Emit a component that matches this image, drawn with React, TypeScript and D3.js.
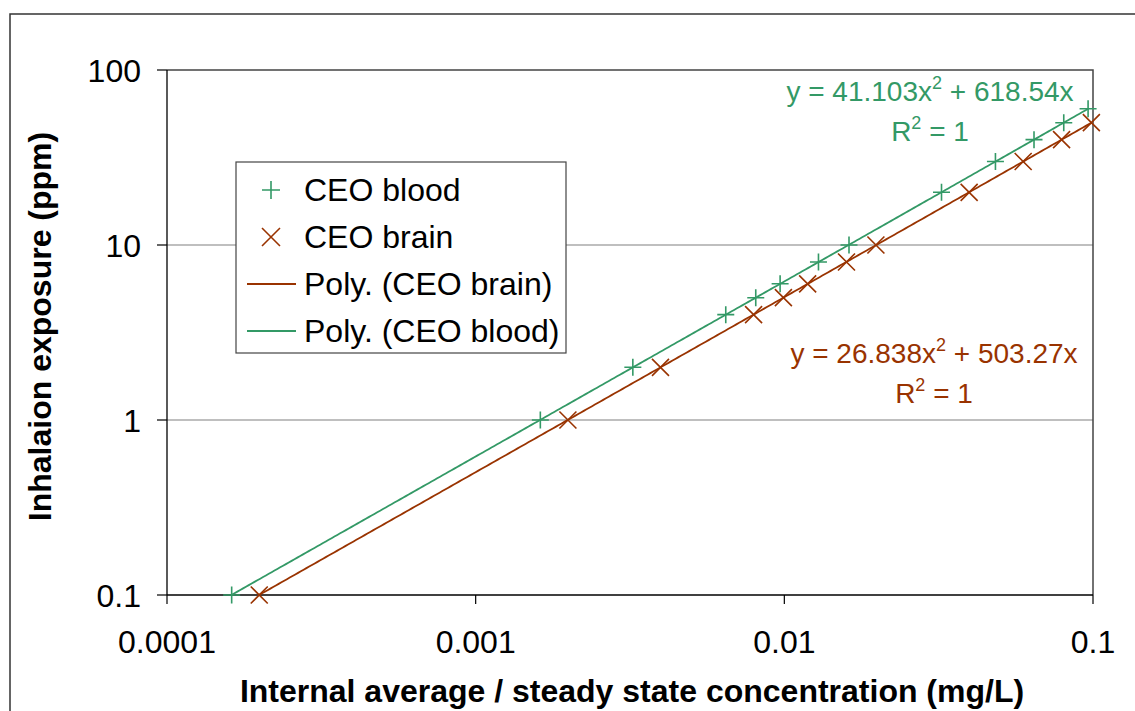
import React from "react";
import * as d3 from "d3";

// Measured steady-state concentrations (mg/L) and the inhalation exposures (ppm)
const bloodConc = [0.000162, 0.00162, 0.00323, 0.00646, 0.00808, 0.00969, 0.0129, 0.0162, 0.0323, 0.0483, 0.0644, 0.0804, 0.0964];
const bloodPpm = [0.1, 1, 2, 4, 5, 6, 8, 10, 20, 30, 40, 50, 60];
const brainConc = [0.000199, 0.00199, 0.00397, 0.00795, 0.00993, 0.0119, 0.0159, 0.0198, 0.0397, 0.0594, 0.0791, 0.0988];
const brainPpm = [0.1, 1, 2, 4, 5, 6, 8, 10, 20, 30, 40, 50];

// Second-order polynomial trendlines through the origin: y = a·x² + b·x
const bloodFit = [41.103, 618.54];
const brainFit = [26.838, 503.27];

const xTicks = [0.0001, 0.001, 0.01, 0.1];
const xTickLabels = ["0.0001", "0.001", "0.01", "0.1"];
const yTicks = [0.1, 1, 10, 100];
const yTickLabels = ["0.1", "1", "10", "100"];

const GREEN = "#339966";
const BROWN = "#993300";
const FONT = "'Liberation Sans', Arial, sans-serif";

const W = 1135;
const H = 711;
const plot = { left: 167, right: 1093, top: 70, bottom: 595 };

export default function App() {
  const x = d3.scaleLog().domain([0.0001, 0.1]).range([plot.left, plot.right]);
  const y = d3.scaleLog().domain([0.1, 100]).range([plot.bottom, plot.top]);

  const trend = (fit: number[], conc: number[]) => {
    const lo = d3.min(conc) as number;
    const hi = d3.max(conc) as number;
    const n = 300;
    const pts: [number, number][] = d3.range(n + 1).map((i) => {
      const cx = Math.pow(10, Math.log10(lo) + (i / n) * (Math.log10(hi) - Math.log10(lo)));
      return [cx, fit[0] * cx * cx + fit[1] * cx];
    });
    return d3
      .line<[number, number]>()
      .x((d) => x(d[0]))
      .y((d) => y(d[1]))(pts) as string;
  };

  const plus = (cx: number, cy: number, r: number) =>
    `M${cx - r},${cy}H${cx + r}M${cx},${cy - r}V${cy + r}`;
  const cross = (cx: number, cy: number, r: number) =>
    `M${cx - r},${cy - r}L${cx + r},${cy + r}M${cx - r},${cy + r}L${cx + r},${cy - r}`;

  const mk = 8.5;

  const legendItems = [
    { label: "CEO blood", kind: "plus", color: GREEN },
    { label: "CEO brain", kind: "cross", color: BROWN },
    { label: "Poly. (CEO brain)", kind: "line", color: BROWN },
    { label: "Poly. (CEO blood)", kind: "line", color: GREEN },
  ];

  return (
    <svg
      width={W}
      height={H}
      style={{ position: "absolute", left: 0, top: 0, background: "#fff" }}
      fontFamily={FONT}
    >
      <rect x={0} y={0} width={W} height={H} fill="#fff" />
      {/* chart frame */}
      <rect x={10} y={14} width={W + 20} height={H + 20} fill="none" stroke="#333" strokeWidth={1.5} />

      {/* horizontal gridlines */}
      {yTicks.slice(1, 3).map((t) => (
        <line key={t} x1={plot.left} x2={plot.right} y1={y(t)} y2={y(t)} stroke="#808080" strokeWidth={1.2} />
      ))}
      {/* plot-area border on top and right */}
      <path
        d={`M${plot.left},${plot.top}H${plot.right}V${plot.bottom}`}
        fill="none"
        stroke="#444"
        strokeWidth={1.5}
      />

      {/* axes */}
      <line x1={plot.left} x2={plot.left} y1={plot.top} y2={plot.bottom} stroke="#000" strokeWidth={1.3} />
      <line x1={plot.left} x2={plot.right} y1={plot.bottom} y2={plot.bottom} stroke="#000" strokeWidth={1.3} />
      {yTicks.map((t, i) => (
        <g key={t}>
          <line x1={plot.left - 10} x2={plot.left} y1={y(t)} y2={y(t)} stroke="#000" strokeWidth={1.2} />
          <text x={141} y={y(t)} dy="0.36em" textAnchor="end" fontSize={32} fill="#000">
            {yTickLabels[i]}
          </text>
        </g>
      ))}
      {xTicks.map((t, i) => (
        <g key={t}>
          <line x1={x(t)} x2={x(t)} y1={plot.bottom} y2={plot.bottom + 9} stroke="#000" strokeWidth={1.2} />
          <text x={x(t)} y={653} textAnchor="middle" fontSize={32} fill="#000">
            {xTickLabels[i]}
          </text>
        </g>
      ))}

      {/* axis titles */}
      <text x={632} y={702} textAnchor="middle" fontSize={32} fontWeight="bold" fill="#000">
        Internal average / steady state concentration (mg/L)
      </text>
      <text
        transform={`translate(51,${(plot.top + plot.bottom) / 2 - 6}) rotate(-90)`}
        textAnchor="middle"
        fontSize={32}
        fontWeight="bold"
        fill="#000"
      >
        Inhalaion exposure (ppm)
      </text>

      {/* trendlines */}
      <path d={trend(brainFit, brainConc)} fill="none" stroke={BROWN} strokeWidth={1.8} />
      <path d={trend(bloodFit, bloodConc)} fill="none" stroke={GREEN} strokeWidth={1.8} />

      {/* data points */}
      {bloodConc.map((c, i) => (
        <path key={"b" + i} d={plus(x(c), y(bloodPpm[i]), mk)} stroke={GREEN} strokeWidth={1.6} fill="none" />
      ))}
      {brainConc.map((c, i) => (
        <path key={"r" + i} d={cross(x(c), y(brainPpm[i]), mk)} stroke={BROWN} strokeWidth={1.6} fill="none" />
      ))}

      {/* trendline equations */}
      <text x={930} y={101} textAnchor="middle" fontSize={28} fill={GREEN}>
        <tspan>y = {bloodFit[0]}x</tspan>
        <tspan fontSize={18} dy={-12}>2</tspan>
        <tspan dy={12}> + {bloodFit[1]}x</tspan>
      </text>
      <text x={930} y={141} textAnchor="middle" fontSize={28} fill={GREEN}>
        <tspan>R</tspan>
        <tspan fontSize={18} dy={-12}>2</tspan>
        <tspan dy={12}> = 1</tspan>
      </text>
      <text x={934} y={363} textAnchor="middle" fontSize={28} fill={BROWN}>
        <tspan>y = {brainFit[0]}x</tspan>
        <tspan fontSize={18} dy={-12}>2</tspan>
        <tspan dy={12}> + {brainFit[1]}x</tspan>
      </text>
      <text x={934} y={403} textAnchor="middle" fontSize={28} fill={BROWN}>
        <tspan>R</tspan>
        <tspan fontSize={18} dy={-12}>2</tspan>
        <tspan dy={12}> = 1</tspan>
      </text>

      {/* legend */}
      <rect x={236} y={162} width={330} height={191} fill="#fff" stroke="#444" strokeWidth={1.2} />
      {legendItems.map((it, i) => {
        const cy = 190 + i * 47;
        return (
          <g key={it.label}>
            {it.kind === "plus" && <path d={plus(271, cy, 9)} stroke={it.color} strokeWidth={1.6} fill="none" />}
            {it.kind === "cross" && <path d={cross(271, cy, 9)} stroke={it.color} strokeWidth={1.6} fill="none" />}
            {it.kind === "line" && (
              <line x1={247} x2={296} y1={cy} y2={cy} stroke={it.color} strokeWidth={1.8} />
            )}
            <text x={304} y={cy + 11} fontSize={32} fill="#000">
              {it.label}
            </text>
          </g>
        );
      })}
    </svg>
  );
}
